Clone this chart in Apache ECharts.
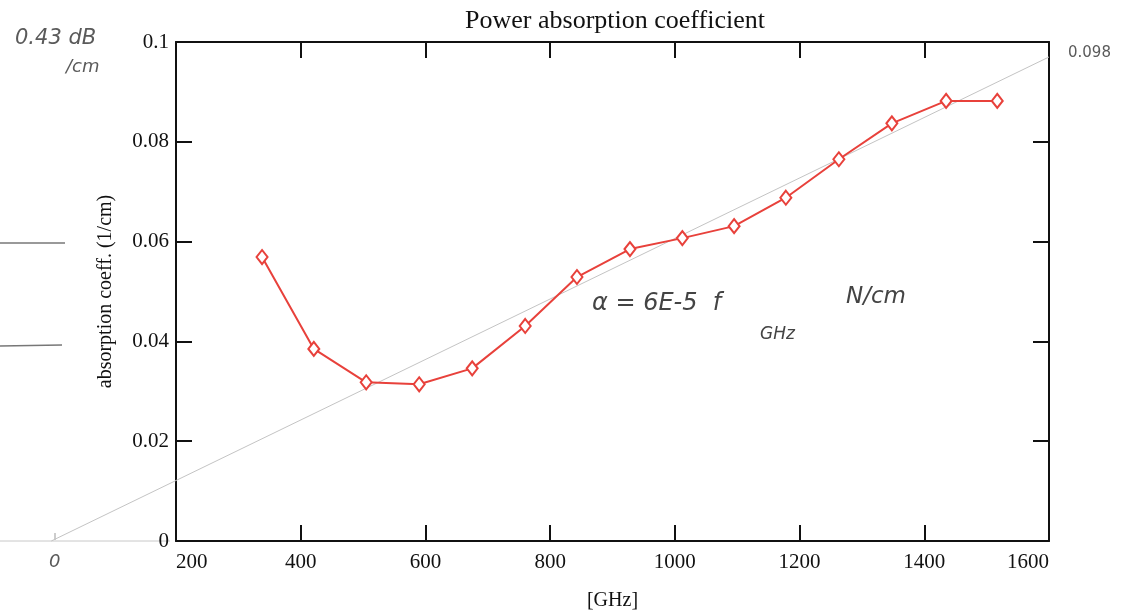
<!DOCTYPE html>
<html>
<head>
<meta charset="utf-8">
<script src="https://cdn.jsdelivr.net/npm/echarts@6/dist/echarts.min.js"></script>
<style>
html,body{margin:0;padding:0;background:#fff;}
#chart{width:1135px;height:613px;}
</style>
</head>
<body>
<div id="chart"></div>
<script>
// Data
const freqGHz = [338, 421, 505, 590, 675, 760, 843, 928, 1012, 1095, 1178, 1263, 1348, 1435, 1517];
const absorption = [0.0569, 0.0385, 0.0318, 0.0314, 0.0346, 0.0431, 0.0529, 0.0585, 0.0607, 0.0631, 0.0688, 0.0765, 0.0837, 0.0882, 0.0882];
const fitLineX = [0, 1600];
const fitLineY = [0, 0.0970];
const xTicks = [200, 400, 600, 800, 1000, 1200, 1400, 1600];
const yTicks = [0, 0.02, 0.04, 0.06, 0.08, 0.1];

const chart = echarts.init(document.getElementById('chart'), null, {renderer: 'canvas'});
const serif = '"Liberation Serif", "DejaVu Serif", serif';
const hand = '"DejaVu Sans", sans-serif';
const handColor = '#5a5a5a';

const axisCommon = {
  type: 'value',
  axisLine: {show: true, onZero: false, lineStyle: {color: '#111', width: 2}},
  axisTick: {show: true, inside: true, length: 16, lineStyle: {color: '#111', width: 2}},
  splitLine: {show: false}
};

const option = {
  backgroundColor: '#fff',
  animation: false,
  title: {
    text: 'Power absorption coefficient',
    left: 610, top: 3, textAlign: 'center',
    textStyle: {fontFamily: serif, fontWeight: 'normal', fontSize: 26, color: '#111'}
  },
  grid: {left: 176, right: 86, top: 42, bottom: 72, containLabel: false, outerBoundsMode: 'none'},
  xAxis: [
    Object.assign({}, axisCommon, {
      position: 'bottom', min: xTicks[0], max: xTicks[xTicks.length - 1], interval: 200,
      name: '[GHz]', nameLocation: 'middle', nameGap: 50,
      nameTextStyle: {fontFamily: serif, fontSize: 20, color: '#111'},
      axisLabel: {fontFamily: serif, fontSize: 21, color: '#111', margin: 11,
        formatter: v => String(v), alignMinLabel: 'left', alignMaxLabel: 'right'}
    }),
    Object.assign({}, axisCommon, {
      position: 'top', min: xTicks[0], max: xTicks[xTicks.length - 1], interval: 200,
      axisLabel: {show: false}
    })
  ],
  yAxis: [
    Object.assign({}, axisCommon, {
      position: 'left', min: yTicks[0], max: yTicks[yTicks.length - 1], interval: 0.02,
      name: 'absorption coeff. (1/cm)', nameLocation: 'middle', nameGap: 60,
      nameTextStyle: {fontFamily: serif, fontSize: 20, color: '#111'},
      axisLabel: {fontFamily: serif, fontSize: 21, color: '#111', margin: 7,
        formatter: v => String(+v.toFixed(2))}
    }),
    Object.assign({}, axisCommon, {
      position: 'right', min: yTicks[0], max: yTicks[yTicks.length - 1], interval: 0.02,
      axisLabel: {show: false}
    })
  ],
  series: [
    {
      type: 'custom',
      silent: true,
      clip: false,
      data: [[fitLineX[0], fitLineY[0], fitLineX[1], fitLineY[1]]],
      renderItem: function (params, api) {
        const p0 = api.coord([api.value(0), api.value(1)]);
        const p1 = api.coord([api.value(2), api.value(3)]);
        return {
          type: 'line',
          shape: {x1: p0[0], y1: p0[1], x2: p1[0], y2: p1[1]},
          style: {stroke: '#c4c4c4', lineWidth: 1}
        };
      },
      z: 1
    },
    {
      type: 'line',
      data: freqGHz.map((x, i) => [x, absorption[i]]),
      symbol: 'diamond',
      symbolSize: [11, 14],
      showSymbol: true,
      itemStyle: {color: '#fff', borderColor: '#e8413b', borderWidth: 2},
      lineStyle: {color: '#e8413b', width: 2},
      z: 3
    }
  ],
  graphic: [
    {type: 'text', left: 15, top: 28, style: {text: '0.43 dB', fontFamily: hand, fontSize: 21, fill: handColor, fontStyle: 'italic'}},
    {type: 'text', left: 66, top: 58, style: {text: '/cm', fontFamily: hand, fontSize: 18, fill: handColor, fontStyle: 'italic'}},
    {type: 'text', left: 1068, top: 46, style: {text: '0.098', fontFamily: hand, fontSize: 15, fill: handColor}},
    {type: 'text', left: 592, top: 292, style: {text: 'α = 6E-5  f', fontFamily: hand, fontSize: 24, fill: '#444', fontStyle: 'italic'}},
    {type: 'text', left: 760, top: 326, style: {text: 'GHz', fontFamily: hand, fontSize: 17, fill: '#444', fontStyle: 'italic'}},
    {type: 'text', left: 846, top: 286, style: {text: 'N/cm', fontFamily: hand, fontSize: 23, fill: '#444', fontStyle: 'italic'}},
    {type: 'text', left: 49, top: 553, style: {text: '0', fontFamily: hand, fontSize: 18, fill: handColor, fontStyle: 'italic'}},
    {type: 'line', shape: {x1: 0, y1: 243, x2: 65, y2: 243}, style: {stroke: '#777', lineWidth: 1.5}},
    {type: 'line', shape: {x1: 0, y1: 346, x2: 62, y2: 345}, style: {stroke: '#777', lineWidth: 1.5}},
    {type: 'line', shape: {x1: 0, y1: 541, x2: 170, y2: 541}, style: {stroke: '#c8c8c8', lineWidth: 1}},
    {type: 'line', shape: {x1: 55, y1: 533, x2: 55, y2: 540}, style: {stroke: '#999', lineWidth: 1}}
  ]
};
chart.setOption(option);
</script>
</body>
</html>
